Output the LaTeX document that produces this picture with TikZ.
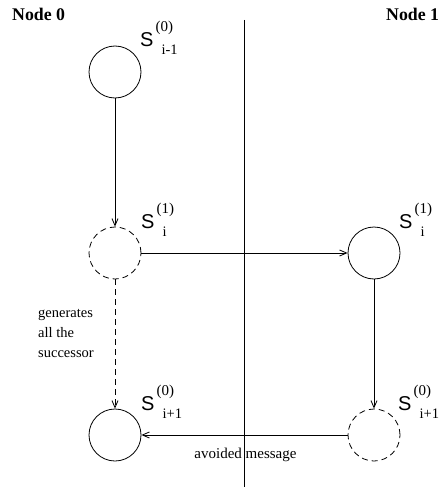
\documentclass[tikz,border=0pt]{standalone}
\usepackage{fontspec}
\setmainfont{Liberation Serif}
\newfontfamily\labsans{Liberation Sans}
\usetikzlibrary{arrows.meta}
\newcommand{\Slab}[2]{{\fontsize{20}{20}\labsans S}\kern2pt\rlap{\raisebox{15pt}{\fontsize{15}{16}\selectfont #1}}\kern6pt\raisebox{-8pt}{\fontsize{14.5}{16}\selectfont #2}}
\begin{document}
\begin{tikzpicture}[x=1pt,y=-1pt,
  st/.style={circle,draw,line width=0.8pt,minimum size=52pt,inner sep=0pt},
  dst/.style={st,dash pattern=on 6pt off 4pt},
  lab/.style={anchor=base west,inner sep=0pt},
  msg/.style={line width=0.8pt,-{Straight Barb[length=7pt,width=6pt]}},
  txt/.style={anchor=base west,inner sep=0pt,font=\fontsize{14.5}{20}\selectfont},
  head/.style={anchor=base west,inner sep=0pt,font=\fontsize{17.8}{20}\selectfont\bfseries}]
\useasboundingbox (0,0) rectangle (439,487);
\node[head] (n0) at (12,21) {Node 0};
\node[head] (n1) at (386,21) {Node 1};
\coordinate (vt) at (244,20);
\coordinate (vb) at (244,487);
\draw[line width=0.8pt] (vt) -- (vb);
\node[st] (a) at (115,72) {};
\node[dst] (b) at (115,253) {};
\node[st] (c) at (374,253) {};
\node[st] (d) at (115,435) {};
\node[dst] (e) at (374,435) {};
\node[lab] (la) at (140,47) {\Slab{(0)}{i-1}};
\node[lab] (lb) at (141,228) {\Slab{(1)}{i}};
\node[lab] (lc) at (399,228) {\Slab{(1)}{i}};
\node[lab] (ld) at (141,410) {\Slab{(0)}{i+1}};
\node[lab] (le) at (398,410) {\Slab{(0)}{i+1}};
\draw[msg] (a) -- (b);
\draw[msg] (b) -- (c);
\draw[msg] (c) -- (e);
\draw[msg] (e) -- (d);
\draw[msg,dash pattern=on 6pt off 4pt] (b) -- (d);
\node[txt] (g1) at (38,317) {generates};
\node[txt] (g2) at (38,337) {all the};
\node[txt] (g3) at (38,357) {successor};
\node[anchor=base,inner sep=0pt,font=\fontsize{15}{16}\selectfont] (am) at (245.5,458) {avoided message};
\end{tikzpicture}
\end{document}
